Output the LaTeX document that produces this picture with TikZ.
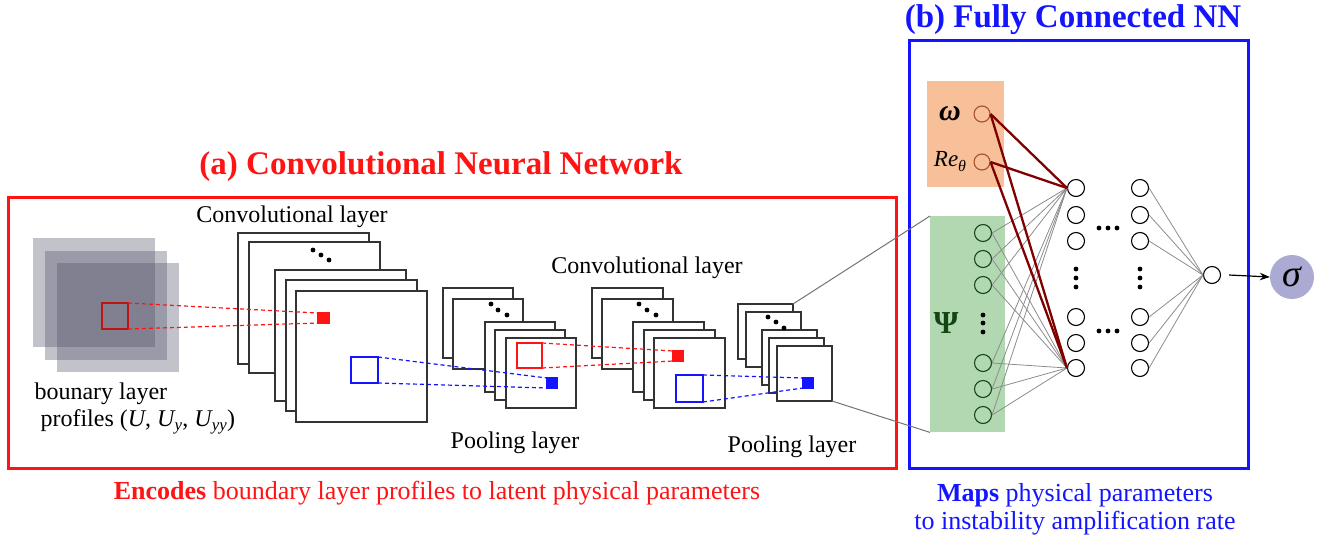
\documentclass[tikz,border=0pt]{standalone}
\usepackage{amsmath}
\usepackage{fontspec}
\setmainfont{Liberation Serif}
\usetikzlibrary{positioning,arrows.meta}

\definecolor{cnnred}{RGB}{255,20,20}
\definecolor{kerred}{RGB}{190,20,20}
\definecolor{fcblue}{RGB}{20,20,255}
\definecolor{inshade}{RGB}{80,80,104}
\definecolor{physfill}{RGB}{248,192,152}
\definecolor{psifill}{RGB}{178,216,178}
\definecolor{psigreen}{RGB}{20,70,20}
\definecolor{linkred}{RGB}{128,0,0}
\definecolor{physring}{RGB}{165,80,40}
\definecolor{sigfill}{RGB}{170,170,210}

\tikzset{
  fmap/.style={draw=black!80, fill=white, line width=1.3pt, anchor=north west, inner sep=0pt, outer sep=0pt},
  kern/.style={draw, line width=1.2pt, anchor=north west, inner sep=0pt, outer sep=0pt},
  link/.style={dashed, dash pattern=on 4pt off 3pt, line width=1.2pt},
  lbl/.style={font=\fontsize{24}{28}\selectfont},
  captext/.style={font=\fontsize{26}{28}\selectfont},
  neuron/.style={circle, draw, line width=1.1pt, fill=white, minimum size=17pt, inner sep=0pt},
  wire/.style={draw=black!45, line width=0.8pt},
  strong/.style={draw=linkred, line width=2.3pt}
}

\begin{document}
\begin{tikzpicture}[x=1pt, y=-1pt]
    \useasboundingbox (0,0) rectangle (1335,542);

    % Frames round the two parts
    \draw[cnnred, line width=3pt] (8,197) rectangle (896,468);
    \node[font=\bfseries\fontsize{33}{36}\selectfont, text=cnnred] (ttlA) at (441,167) {(a) Convolutional Neural Network};
    \draw[fcblue, line width=3pt] (909,40) rectangle (1248,468);
    \node[font=\bfseries\fontsize{33}{36}\selectfont, text=fcblue] (ttlB) at (1073,20) {(b) Fully Connected NN};

    % Input profiles
    \foreach \x/\y in {33/238, 45/251, 57/263}
        \fill[inshade, fill opacity=0.35] (\x,\y) rectangle ++(122,109);
    \node[lbl, anchor=west] (inA) at (31,394) {bounary layer};
    \node[lbl, anchor=west] (inB) at (37,422) {profiles ($\mathit{U}$, $\mathit{U}_{\mathit{y}}$, $\mathit{U}_{\mathit{yy}}$)};

    % Feature map stacks
    \foreach \n/\x/\y in {1/238/233, 2/249/242, 3/275/270, 4/286/280, 5/296/291}
        \node[fmap, minimum width=131pt, minimum height=131pt] (c1\n) at (\x,\y) {};
    \foreach \n/\x/\y in {1/443/288, 2/453/299, 3/485/322, 4/495/330, 5/506/338}
        \node[fmap, minimum width=70pt, minimum height=70pt] (p1\n) at (\x,\y) {};
    \foreach \n/\x/\y in {1/592/288, 2/602/299, 3/633/322, 4/644/330, 5/654/338}
        \node[fmap, minimum width=71pt, minimum height=70pt] (c2\n) at (\x,\y) {};
    \foreach \n/\x/\y in {1/738/304, 2/746/312, 3/762/330, 4/769/338, 5/777/346}
        \node[fmap, minimum width=55pt, minimum height=55pt] (p2\n) at (\x,\y) {};

    % Dots on the second maps
    \foreach \x/\y in {313/250, 321/255, 329/260, 491/304, 498/310, 507/315,
                       639/304, 647/310, 656/315, 768/317, 776/322, 784/328}
        \fill (\x,\y) circle (2.4pt);

    \node[lbl] (lblC1) at (292,217) {Convolutional layer};
    \node[lbl] (lblP1) at (515,443) {Pooling layer};
    \node[lbl] (lblC2) at (647,268) {Convolutional layer};
    \node[lbl] (lblP2) at (792,447) {Pooling layer};

    % Kernels and their targets
    \node[kern, draw=kerred, minimum width=26pt, minimum height=26pt] (k1) at (102,303) {};
    \node[kern, draw=cnnred, fill=cnnred, minimum width=11pt, minimum height=10pt] (t1) at (318,313) {};
    \node[kern, draw=fcblue, minimum width=27pt, minimum height=26pt] (k2) at (351,357) {};
    \node[kern, draw=fcblue, fill=fcblue, minimum width=10pt, minimum height=10pt] (t2) at (547,378) {};
    \node[kern, draw=cnnred, minimum width=25pt, minimum height=25pt] (k3) at (517,343) {};
    \node[kern, draw=cnnred, fill=cnnred, minimum width=10pt, minimum height=10pt] (t3) at (673,351) {};
    \node[kern, draw=fcblue, minimum width=27pt, minimum height=27pt] (k4) at (676,375) {};
    \node[kern, draw=fcblue, fill=fcblue, minimum width=10pt, minimum height=10pt] (t4) at (803,378) {};
    \foreach \k/\t/\c in {k1/t1/cnnred, k2/t2/fcblue, k3/t3/cnnred, k4/t4/fcblue} {
        \draw[link, \c] (\k.north east) -- (\t.north west);
        \draw[link, \c] (\k.south east) -- (\t.south west);
    }

    % Parameter boxes
    \node[fill=physfill, anchor=north west, minimum width=77pt, minimum height=106pt, inner sep=0pt] (physbox) at (927,81) {};
    \node[fill=psifill, anchor=north west, minimum width=75pt, minimum height=216pt, inner sep=0pt] (psibox) at (930,216) {};
    \draw[black!55, line width=1pt] (p21.north east) -- (psibox.north west);
    \draw[black!55, line width=1pt] (p25.south east) -- (psibox.south west);

    % Network nodes
    \node[neuron, draw=physring, fill=none, minimum size=16pt] (om) at (982,114) {};
    \node[neuron, draw=physring, fill=none, minimum size=16pt] (re) at (982,162) {};
    \node[font=\bfseries\itshape\fontsize{30}{32}\selectfont] (omlbl) at (950,114) {ω};
    \node[font=\itshape\fontsize{23}{26}\selectfont] (relbl) at (950,162) {Re\raisebox{-5pt}{\fontsize{16}{18}\selectfont θ}};
    \node[font=\bfseries\fontsize{32}{34}\selectfont, text=psigreen] (psilbl) at (946,323) {Ψ};
    \foreach \n/\y in {1/233, 2/259, 3/285, 4/363, 5/389, 6/415}
        \node[neuron, draw=psigreen, fill=none] (s\n) at (983,\y) {};
    \foreach \n/\y in {1/188, 2/215, 3/241, 4/317, 5/343, 6/368} {
        \node[neuron] (a\n) at (1076,\y) {};
        \node[neuron] (b\n) at (1140,\y) {};
    }
    \node[neuron] (out) at (1212,275) {};
    \node[circle, fill=sigfill, minimum size=44pt, inner sep=0pt, font=\itshape\fontsize{38}{40}\selectfont] (sig) at (1292,277) {σ};

    % Connections
    \foreach \i in {1,...,6} {
        \draw[wire] (s\i.east) -- (a1.west);
        \draw[wire] (s\i.east) -- (a6.west);
        \draw[wire] (b\i.east) -- (out.west);
    }
    \foreach \s in {om, re} {
        \draw[strong] (\s.east) -- (a1.west);
        \draw[strong] (\s.east) -- (a6.west);
    }
    \draw[-{Stealth[length=10pt]}, line width=1.2pt] (out.east) ++(8pt,0) -- (sig.west);

    % Dots between neurons
    \foreach \x/\y in {983/315, 983/323, 983/332, 1076/269, 1076/278, 1076/287, 1140/269, 1140/278, 1140/287,
                       1099/228, 1108/228, 1117/228, 1099/331, 1108/331, 1117/331}
        \fill (\x,\y) circle (2.4pt);

    % Captions
    \node[captext, text=cnnred] (capA) at (437,493) {\textbf{Encodes} boundary layer profiles to latent physical parameters};
    \node[captext, text=fcblue, align=center] (capB) at (1075,509) {\textbf{Maps} physical parameters\\to instability amplification rate};
\end{tikzpicture}
\end{document}
